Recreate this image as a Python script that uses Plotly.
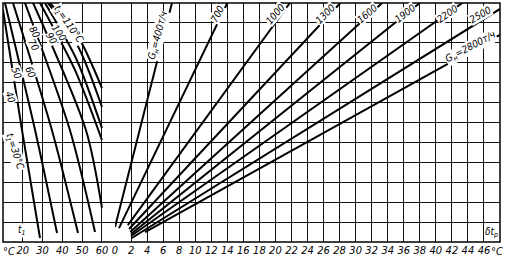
import plotly.graph_objects as go

# ---------------- data ----------------
# left section: curves of parameter t1 (x in degC on t1 scale, y in grid rows 0..12)
curve_params = [30, 40, 50, 60, 70, 80, 90, 100, 110]
curve_x = [
    [10.0, 19.6, 28.7],
    [11.0, 26.2, 37.3],
    [15.05, 34.7, 47.9],
    [21.1, 43.8, 56.5],
    [25.2, 51.9, 60.0],
    [28.7, 46.4, 60.0],
    [31.2, 47.0, 60.0],
    [32.7, 48.0, 60.0],
    [33.7, 48.0, 60.0],
]
curve_y = [
    [11.65, 5.62, 0.2],
    [12.0, 5.62, 0.45],
    [12.0, 5.62, 0.45],
    [12.0, 5.62, 0.5],
    [12.0, 5.62, 1.71],
    [12.0, 8.63, 5.12],
    [12.0, 9.2, 5.72],
    [12.0, 9.8, 6.78],
    [12.0, 10.3, 7.73],
]

# right section: rays for flow G (x = delta t, degC)
flows = [400, 700, 1000, 1300, 1600, 1900, 2200, 2500, 2800]
ray_x0 = [0.0, 0.5, 1.6, 1.75, 1.9, 2.0, 2.0, 2.1, 3.75]
ray_y0 = [0.75, 0.7, 0.85, 0.65, 0.5, 0.4, 0.3, 0.2, 0.5]
ray_x1 = [7.1, 14.0, 21.8, 28.1, 33.3, 38.0, 43.3, 48.0, 48.0]
ray_y1 = [12.0, 12.0, 12.0, 12.0, 12.0, 12.0, 12.0, 11.7, 10.4]

left_ticks = [20, 30, 40, 50, 60]
right_ticks = list(range(0, 48, 2))

# ---------------- figure ----------------
fig = go.Figure()
LW = 2.0
for xs, ys in zip(curve_x, curve_y):
    fig.add_trace(go.Scatter(x=xs, y=ys, mode="lines", xaxis="x", yaxis="y",
                             line=dict(color="black", width=LW, shape="spline", smoothing=0.8),
                             hoverinfo="skip", showlegend=False))
for a, b, c, d in zip(ray_x0, ray_y0, ray_x1, ray_y1):
    fig.add_trace(go.Scatter(x=[a, c], y=[b, d], mode="lines", xaxis="x2", yaxis="y",
                             line=dict(color="black", width=LW),
                             hoverinfo="skip", showlegend=False))

FONT = "DejaVu Sans Condensed, Liberation Sans Narrow, sans-serif"
tickfont = dict(family=FONT, size=11, color="black", style="italic")
split = 112 / 497

grid = dict(showgrid=True, gridcolor="#111", gridwidth=1, zeroline=False,
            showline=False, ticks="", fixedrange=True, automargin=False)
fig.update_layout(
    width=506, height=262,
    margin=dict(l=3, r=6, t=3, b=20, autoexpand=False),
    paper_bgcolor="white", plot_bgcolor="white",
    showlegend=False,
    xaxis=dict(domain=[0, split], range=[10, 66.6], tickvals=[10] + left_ticks,
               ticktext=[""] + [str(v) for v in left_ticks], tickfont=tickfont,
               anchor="y", **grid),
    xaxis2=dict(domain=[split, 1], range=[0, 48], tickvals=right_ticks + [48],
                ticktext=[str(v) for v in right_ticks] + [""], tickfont=tickfont,
                anchor="y", **grid),
    yaxis=dict(range=[0, 12], dtick=1, showticklabels=False, **grid),
)
fig.add_shape(type="rect", xref="paper", yref="paper", x0=0, x1=1, y0=0, y1=1,
              line=dict(color="black", width=1.5))

# unit labels at both ends of the scale
fig.add_annotation(text="°C", xref="paper", yref="paper", x=-0.004, y=-0.04,
                   xanchor="left", yanchor="middle", showarrow=False, font=tickfont)
fig.add_annotation(text="°C", xref="paper", yref="paper", x=1.01, y=-0.04,
                   xanchor="right", yanchor="middle", showarrow=False, font=tickfont)

lab_font = dict(family=FONT, size=10, color="black", style="italic")
def lab(text, xref, x, y, angle):
    fig.add_annotation(text=text, xref=xref, yref="y", x=x, y=y, showarrow=False,
                       textangle=angle, font=lab_font, bgcolor="white", borderpad=0)

# left labels
lab("t<sub>1</sub>=110°C", "x", 42.8, 10.9, 55)
lab("100", "x", 38.3, 10.54, 55)
lab("90", "x", 34.7, 10.24, 60)
lab("80", "x", 26.2, 10.54, 60)
lab("70", "x", 25.7, 9.89, 62)
lab("60", "x", 24.1, 8.53, 65)
lab("50", "x", 17.1, 8.48, 68)
lab("40", "x", 14.0, 7.28, 70)
lab("t<sub>1</sub>=30°C", "x", 15.6, 4.52, 72)
# right labels
lab("G<sub>н</sub>=400т/ч", "x2", 5.36, 10.39, -75)
lab("700", "x2", 12.84, 11.45, -62)
lab("1000", "x2", 20.07, 11.45, -50)
lab("1300", "x2", 26.3, 11.45, -45)
lab("1600", "x2", 31.5, 11.45, -40)
lab("1900", "x2", 36.2, 11.45, -38)
lab("2200", "x2", 41.5, 11.45, -35)
lab("2500", "x2", 45.6, 11.4, -30)
lab("G<sub>н</sub>=2800т/ч", "x2", 44.3, 9.79, -28)
lab("t<sub>1</sub>", "x", 19.6, 0.6, 0)
lab("δt<sub>p</sub>", "x2", 46.9, 0.5, 0)

fig.write_html("out.html")
